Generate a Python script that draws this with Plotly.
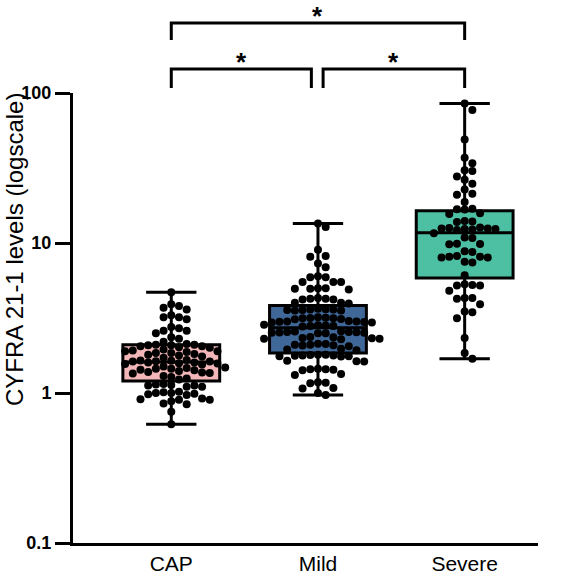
import numpy as np
import plotly.graph_objects as go

categories = ["CAP", "Mild", "Severe"]
colors = ["#F3B7B9", "#3F6797", "#4DC0A4"]

cap_values = [4.7, 3.9, 3.8, 3.7, 3.6, 3.3, 3.2, 3.2, 3.1, 2.75, 2.7, 2.6, 2.6, 2.5, 2.35, 2.3, 2.2,
              2.12, 2.1, 2.1, 2.08, 2.08, 2.05, 2.05, 2.02, 2.0,
              1.95, 1.92, 1.9, 1.9, 1.88, 1.85, 1.85, 1.82, 1.8, 1.78, 1.75, 1.72,
              1.66, 1.65, 1.64, 1.63, 1.62, 1.62, 1.6, 1.6, 1.58, 1.57, 1.56, 1.55,
              1.5, 1.48, 1.47, 1.45, 1.45, 1.43, 1.42, 1.4, 1.38, 1.37, 1.36, 1.35,
              1.3, 1.28, 1.25, 1.23,
              1.15, 1.14, 1.13, 1.12, 1.12, 1.1, 1.1, 1.02, 1.01, 1.0, 1.0, 0.99, 0.98,
              0.97, 0.92, 0.91, 0.9, 0.9, 0.88, 0.85, 0.84, 0.75, 0.62]

mild_values = [13.5, 12.8, 9.0, 8.2, 8.1, 7.3, 6.9, 6.0, 5.9, 5.9, 5.5, 5.5, 5.5, 5.0, 5.0,
               4.95, 4.95, 4.9, 4.3, 4.25, 4.25, 4.2, 4.2, 4.0, 4.0, 3.95,
               3.65, 3.62, 3.6, 3.6, 3.58, 3.57, 3.55, 3.55,
               3.2, 3.18, 3.16, 3.15, 3.15, 3.12, 3.1,
               3.02, 3.0, 3.0, 2.98, 2.97, 2.95, 2.95,
               2.85, 2.83, 2.82, 2.8, 2.8, 2.78,
               2.58, 2.57, 2.55, 2.55, 2.54, 2.53, 2.52, 2.52, 2.5, 2.5,
               2.36, 2.35, 2.33, 2.32, 2.3, 2.3, 2.28,
               2.13, 2.12, 2.1, 2.1, 2.08, 2.07, 2.05,
               1.97, 1.95, 1.93,
               1.8, 1.8, 1.79, 1.78, 1.78, 1.77, 1.76, 1.76, 1.75,
               1.64, 1.63, 1.62,
               1.45, 1.44, 1.44, 1.43, 1.42,
               1.34, 1.32,
               1.18, 1.17, 1.16,
               1.08, 1.07,
               1.0, 0.97]

severe_values = [85, 77, 49, 37, 34, 30.5, 30.2, 27.8, 26.4, 24.8, 22.7, 21.3, 21.0, 18.8,
                 16.9, 16.8, 16.7,
                 15.8, 15.6, 14.0, 13.9, 13.8, 12.7, 12.6, 12.5, 12.5, 12.4, 12.4, 12.3, 12.2, 11.6,
                 10.9, 10.8, 9.9, 9.85, 9.8, 8.8, 8.7, 8.2, 8.1, 8.1, 8.0, 8.0, 7.5, 7.4, 6.1,
                 5.3, 5.25, 5.2, 5.2, 4.8, 4.3, 4.3, 4.25, 3.9, 3.5, 3.45, 3.15, 2.33, 1.85, 1.69]

box_q1 = [1.20, 1.85, 5.85]
box_median = [1.61, 2.72, 11.7]
box_q3 = [2.10, 3.83, 16.4]
box_min = [0.62, 0.97, 1.69]
box_max = [4.7, 13.5, 85]

comparisons = [(0, 1, "*"), (1, 2, "*"), (0, 2, "*")]

y_tickvals = [0.1, 1, 10, 100]
y_ticktext = ["0.1", "1", "10", "100"]

# ---- layout geometry ----
W, H = 567, 580
ML, MR, MT, MB = 73, 29, 93, 37
XR = [-0.67, 2.5]
plot_w = W - ML - MR
plot_h = H - MT - MB
px_per_x = plot_w / (XR[1] - XR[0])
px_per_dec = plot_h / 3.0
FONT = "Liberation Sans, Arial"

def swarm(vals, center, dot=7.6, step=7.7):
    order = np.argsort(vals)[::-1]
    placed = []
    xs = np.zeros(len(vals))
    for i in order:
        ypx = np.log10(vals[i]) * px_per_dec
        ks = [0]
        for k in range(1, 40):
            ks += [k, -k]
        for k in ks:
            xp = k * step
            ok = all((xp - a) ** 2 + (ypx - b) ** 2 >= dot ** 2 for a, b in placed)
            if ok:
                break
        placed.append((xp, ypx))
        xs[i] = center + xp / px_per_x
    return xs

fig = go.Figure()
all_vals = [cap_values, mild_values, severe_values]
for i, cat in enumerate(categories):
    fig.add_trace(go.Box(
        x=[i], q1=[box_q1[i]], median=[box_median[i]], q3=[box_q3[i]],
        lowerfence=[box_min[i]], upperfence=[box_max[i]],
        fillcolor=colors[i], line=dict(color="black", width=3),
        whiskerwidth=0.52, width=0.66, boxpoints=False, showlegend=False,
        hoverinfo="skip"))
for i, vals in enumerate(all_vals):
    v = np.array(vals, dtype=float)
    fig.add_trace(go.Scatter(
        x=swarm(v, i), y=v, mode="markers",
        marker=dict(color="black", size=8, line=dict(width=0)),
        showlegend=False, hoverinfo="skip"))

def xpaper(c):
    return (c - XR[0]) / (XR[1] - XR[0])

def ypaper(px_from_top):
    return (H - MB - px_from_top) / plot_h

shapes = []
annotations = []
levels = {(0, 1): (69, 88, 62), (1, 2): (69, 88, 62), (0, 2): (23, 40, 16)}
for a, b, label in comparisons:
    ytop, ybot, ystar = levels[(a, b)]
    xa = xpaper(a) + (0.035 / (XR[1] - XR[0]) if a == 1 else 0)
    xb = xpaper(b) - (0.045 / (XR[1] - XR[0]) if b == 1 else 0)
    yt, yb = ypaper(ytop), ypaper(ybot)
    shapes.append(dict(type="path", xref="paper", yref="paper",
                       path=f"M {xa},{yb} L {xa},{yt} L {xb},{yt} L {xb},{yb}",
                       line=dict(color="black", width=3)))
    annotations.append(dict(x=(xa + xb) / 2, y=ypaper(ystar), xref="paper", yref="paper",
                            text="<b>*</b>", showarrow=False, xanchor="center", yanchor="middle",
                            font=dict(size=26, color="black", family=FONT)))

annotations.append(dict(x=(14 - ML) / plot_w, y=ypaper(250), xref="paper", yref="paper",
                        text="CYFRA 21-1 levels (logscale)", textangle=-90, showarrow=False,
                        xanchor="center", yanchor="middle",
                        font=dict(size=24, color="black", family=FONT)))

fig.update_layout(
    width=W, height=H, margin=dict(l=ML, r=MR, t=MT, b=MB, pad=0, autoexpand=False),
    paper_bgcolor="white", plot_bgcolor="white",
    shapes=shapes, annotations=annotations,
    font=dict(family=FONT, color="black"),
    xaxis=dict(range=XR, tickvals=[0, 1, 2], ticktext=categories, showgrid=False, zeroline=False,
               automargin=False,
               showline=True, linewidth=3, linecolor="black", ticks="",
               tickfont=dict(size=21, color="black", family=FONT)),
    yaxis=dict(type="log", range=[-1, 2], tickvals=y_tickvals, ticktext=y_ticktext,
               automargin=False,
               showgrid=False, zeroline=False, showline=True, linewidth=3, linecolor="black",
               ticks="outside", ticklen=15, tickwidth=3, tickcolor="black",
               tickfont=dict(size=18, color="black", family=FONT, weight="bold")),
)

fig.write_html("out.html")
